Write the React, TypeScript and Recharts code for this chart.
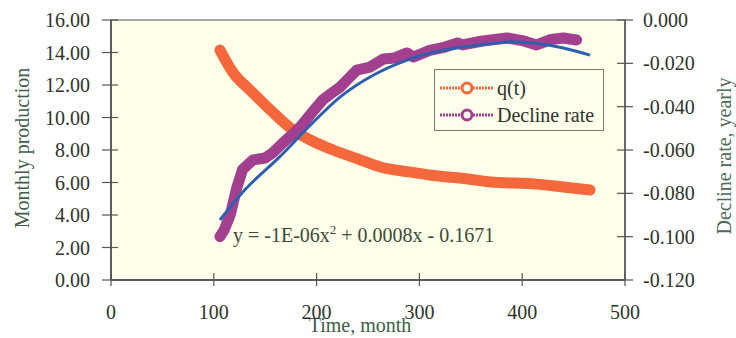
import React from 'react';
import { ComposedChart, Line, XAxis, YAxis } from 'recharts';

// Time (month) and monthly production q(t)
const qTime = [106, 119, 135, 152, 177, 200, 216, 240, 262, 290, 310, 349, 369, 414, 440, 466];
const qValues = [14.15, 12.74, 11.7, 10.65, 9.23, 8.43, 8.0, 7.45, 6.95, 6.65, 6.46, 6.2, 6.03, 5.9, 5.72, 5.54];

// Time (month) and decline rate (yearly)
const rateTime = [106, 110, 116, 122, 128, 138, 150, 158, 167, 176, 184, 195, 206, 214, 223, 231, 239, 252, 265, 276, 288, 294, 310, 325, 337, 342, 360, 385, 400, 414, 428, 440, 453];
const rateValues = [-0.1, -0.097, -0.09, -0.078, -0.069, -0.0646, -0.0637, -0.061, -0.0568, -0.053, -0.0494, -0.043, -0.0369, -0.034, -0.0309, -0.027, -0.0231, -0.0217, -0.018, -0.0175, -0.0152, -0.0171, -0.014, -0.0125, -0.0106, -0.0115, -0.0098, -0.0083, -0.0095, -0.0115, -0.009, -0.0083, -0.0092];

// Polynomial trendline
const trendTime = [106, 130, 164, 195, 223, 255, 288, 315, 342, 370, 391, 415, 440, 466];
const trendValues = [-0.0923, -0.0785, -0.0632, -0.048, -0.0355, -0.0255, -0.0185, -0.0148, -0.0125, -0.0108, -0.0100, -0.0108, -0.0129, -0.0162];

const xTicks = [0, 100, 200, 300, 400, 500];
const leftTicks = [0, 2, 4, 6, 8, 10, 12, 14, 16];
const rightTicks = [-0.12, -0.1, -0.08, -0.06, -0.04, -0.02, 0];
const legendItems = ['q(t)', 'Decline rate'];

const qData = qTime.map((x, i) => ({ x, q: qValues[i] }));
const rateData = rateTime.map((x, i) => ({ x, rate: rateValues[i] }));
const trendData = trendTime.map((x, i) => ({ x, trend: trendValues[i] }));

const FONT = '"Liberation Serif", "Times New Roman", serif';
const TXT = '#2f332c';
const ORANGE = '#F4683C';
const PURPLE = '#A2408F';
const BLUE = '#2E5FAE';
const legendColors = [ORANGE, PURPLE];

const LeftTick = (props: any) => {
  const { x, y, payload } = props;
  return (
    <g>
      <line x1={x + 12} x2={x + 28} y1={y} y2={y} stroke="#555" strokeWidth={1.2} />
      <text x={x} y={y + 7} textAnchor="end" fontFamily={FONT} fontSize={20} fill={TXT}>
        {Number(payload.value).toFixed(2)}
      </text>
    </g>
  );
};

const RightTick = (props: any) => {
  const { x, y, payload } = props;
  return (
    <g>
      <line x1={x - 26} x2={x - 10} y1={y} y2={y} stroke="#555" strokeWidth={1.2} />
      <text x={x} y={y + 7} textAnchor="start" fontFamily={FONT} fontSize={20} fill={TXT}>
        {Number(payload.value).toFixed(3)}
      </text>
    </g>
  );
};

const BottomTick = (props: any) => {
  const { x, y, payload } = props;
  return (
    <g>
      <line x1={x} x2={x} y1={y - 7} y2={y + 6} stroke="#555" strokeWidth={1.2} />
      <text x={x} y={y + 39} textAnchor="middle" fontFamily={FONT} fontSize={20} fill={TXT}>
        {payload.value}
      </text>
    </g>
  );
};

const LegendBox = () => (
  <div
    style={{
      position: 'absolute',
      left: 434,
      top: 69,
      width: 170,
      height: 62,
      border: '1px solid #7a7a6e',
      background: '#FFFFEC',
      boxSizing: 'border-box',
      paddingTop: 4,
    }}
  >
    {legendItems.map((name, i) => (
      <div key={name} style={{ display: 'flex', alignItems: 'center', height: 27 }}>
        <svg width={60} height={16} style={{ marginLeft: 2 }}>
          <line x1={3} x2={57} y1={8} y2={8} stroke={legendColors[i]} strokeWidth={3} strokeDasharray="2 1" />
          <circle cx={30} cy={8} r={5} fill="#FFFFEC" stroke={legendColors[i]} strokeWidth={3} />
        </svg>
        <span style={{ fontFamily: FONT, fontSize: 20, color: TXT, lineHeight: '20px' }}>{name}</span>
      </div>
    ))}
  </div>
);

export default function App() {
  return (
    <div style={{ position: 'absolute', left: 0, top: 0, width: 736, height: 338, background: '#fff' }}>
      <ComposedChart width={736} height={338} margin={{ top: 20, right: 0, bottom: 0, left: 0 }}>
        <rect x={111} y={20} width={514} height={260} fill="#FFFFEA" stroke="#8a8a80" strokeWidth={1.5} />
        <XAxis
          xAxisId="x"
          type="number"
          dataKey="x"
          domain={[0, 500]}
          ticks={xTicks}
          height={58}
          tickLine={false}
          tickSize={0}
          tickMargin={0}
          axisLine={{ stroke: '#444', strokeWidth: 1.5 }}
          tick={<BottomTick />}
          allowDataOverflow
        />
        <YAxis
          yAxisId="left"
          orientation="left"
          domain={[0, 16]}
          ticks={leftTicks}
          width={111}
          tickLine={false}
          tickSize={0}
          tickMargin={21}
          axisLine={{ stroke: '#444', strokeWidth: 1.5 }}
          tick={<LeftTick />}
          interval={0}
        />
        <YAxis
          yAxisId="right"
          orientation="right"
          domain={[-0.12, 0]}
          ticks={rightTicks}
          width={111}
          tickLine={false}
          tickSize={0}
          tickMargin={18}
          axisLine={{ stroke: '#555', strokeWidth: 1.5 }}
          tick={<RightTick />}
          interval={0}
        />
        <Line
          xAxisId="x"
          yAxisId="left"
          data={qData}
          dataKey="q"
          type="monotone"
          stroke={ORANGE}
          strokeWidth={11}
          strokeLinecap="round"
          dot={false}
          isAnimationActive={false}
        />
        <Line
          xAxisId="x"
          yAxisId="right"
          data={rateData}
          dataKey="rate"
          type="linear"
          stroke={PURPLE}
          strokeWidth={11}
          strokeLinecap="round"
          strokeLinejoin="round"
          dot={false}
          isAnimationActive={false}
        />
        <Line
          xAxisId="x"
          yAxisId="right"
          data={trendData}
          dataKey="trend"
          type="monotone"
          stroke={BLUE}
          strokeWidth={3}
          dot={false}
          isAnimationActive={false}
        />
        <text x={233} y={242} fontFamily={FONT} fontSize={20} fill="#3c4a34">
          y = -1E-06x
          <tspan dy={-8} fontSize={13}>2</tspan>
          <tspan dy={8}> + 0.0008x - 0.1671</tspan>
        </text>
        <text
          transform="translate(29,148) rotate(-90)"
          textAnchor="middle"
          fontFamily={FONT}
          fontSize={20}
          fill="#3d5e48"
        >
          Monthly production
        </text>
        <text
          transform="translate(731,156) rotate(-90)"
          textAnchor="middle"
          fontFamily={FONT}
          fontSize={20}
          fill="#4d6b58"
        >
          Decline rate, yearly
        </text>
        <text x={360} y={332} textAnchor="middle" fontFamily={FONT} fontSize={20} fill="#3d5e48">
          Time, month
        </text>
      </ComposedChart>
      <LegendBox />
    </div>
  );
}
